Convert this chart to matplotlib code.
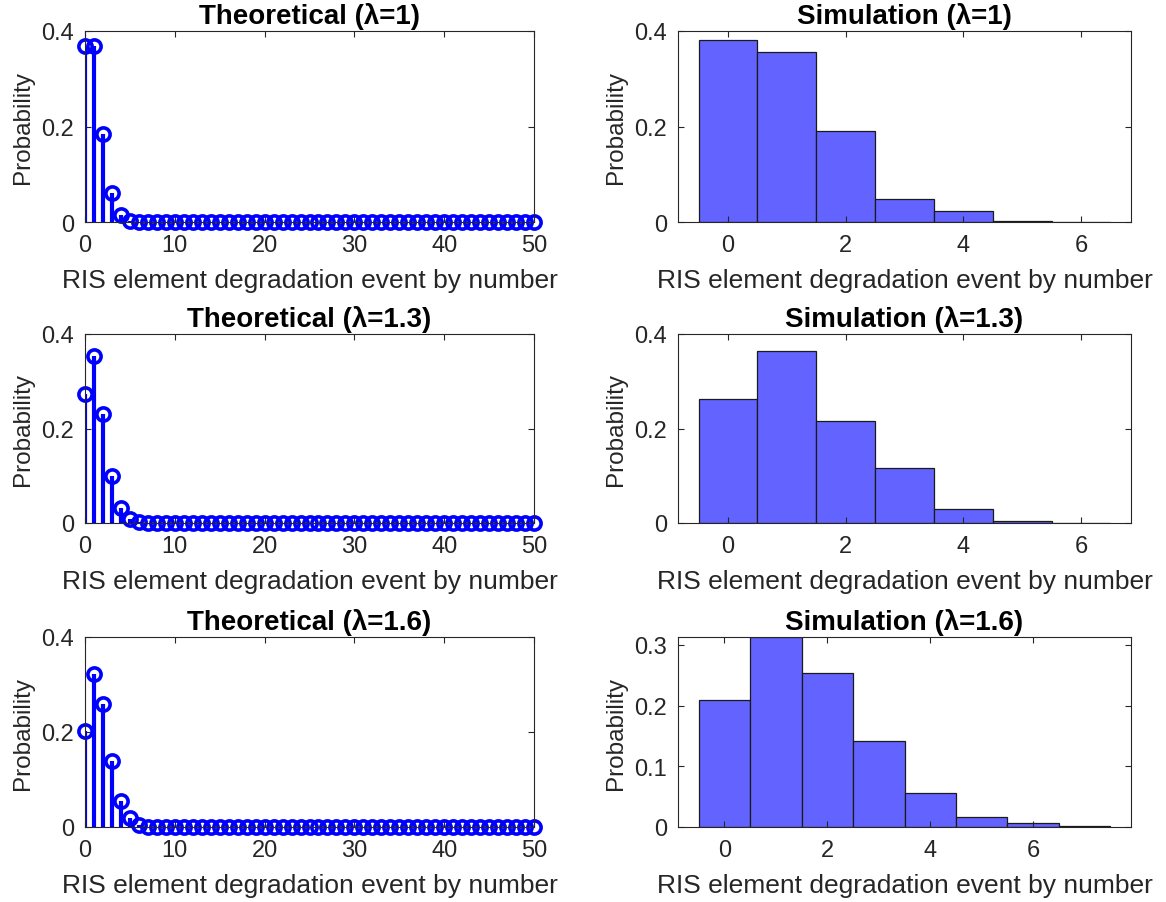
import matplotlib
matplotlib.use("Agg")
import matplotlib.pyplot as plt
from matplotlib.ticker import FuncFormatter

plt.rcParams['font.family'] = ['Liberation Sans', 'DejaVu Sans']

# events k = 0..50 for the theoretical stems
k_theory = list(range(51))

theory_l1 = [0.368, 0.368, 0.184, 0.061, 0.015, 0.003, 0.001, 0.0, 0.0, 0.0,
             0.0, 0.0, 0.0, 0.0, 0.0, 0.0, 0.0, 0.0, 0.0, 0.0,
             0.0, 0.0, 0.0, 0.0, 0.0, 0.0, 0.0, 0.0, 0.0, 0.0,
             0.0, 0.0, 0.0, 0.0, 0.0, 0.0, 0.0, 0.0, 0.0, 0.0,
             0.0, 0.0, 0.0, 0.0, 0.0, 0.0, 0.0, 0.0, 0.0, 0.0,
             0.0]
theory_l13 = [0.273, 0.354, 0.230, 0.100, 0.032, 0.008, 0.002, 0.0, 0.0, 0.0,
              0.0, 0.0, 0.0, 0.0, 0.0, 0.0, 0.0, 0.0, 0.0, 0.0,
              0.0, 0.0, 0.0, 0.0, 0.0, 0.0, 0.0, 0.0, 0.0, 0.0,
              0.0, 0.0, 0.0, 0.0, 0.0, 0.0, 0.0, 0.0, 0.0, 0.0,
              0.0, 0.0, 0.0, 0.0, 0.0, 0.0, 0.0, 0.0, 0.0, 0.0,
              0.0]
theory_l16 = [0.202, 0.323, 0.258, 0.138, 0.055, 0.018, 0.005, 0.001, 0.0, 0.0,
              0.0, 0.0, 0.0, 0.0, 0.0, 0.0, 0.0, 0.0, 0.0, 0.0,
              0.0, 0.0, 0.0, 0.0, 0.0, 0.0, 0.0, 0.0, 0.0, 0.0,
              0.0, 0.0, 0.0, 0.0, 0.0, 0.0, 0.0, 0.0, 0.0, 0.0,
              0.0, 0.0, 0.0, 0.0, 0.0, 0.0, 0.0, 0.0, 0.0, 0.0,
              0.0]

# simulated histograms (probability per count)
sim_k1 = [0, 1, 2, 3, 4, 5, 6]
sim_l1 = [0.381, 0.357, 0.190, 0.048, 0.022, 0.002, 0.001]
sim_k13 = [0, 1, 2, 3, 4, 5, 6]
sim_l13 = [0.263, 0.364, 0.216, 0.116, 0.029, 0.005, 0.0]
sim_k16 = [0, 1, 2, 3, 4, 5, 6, 7]
sim_l16 = [0.209, 0.313, 0.253, 0.142, 0.056, 0.017, 0.006, 0.002]

lambdas = ['1', '1.3', '1.6']
theory = [theory_l1, theory_l13, theory_l16]
sims = [(sim_k1, sim_l1), (sim_k13, sim_l13), (sim_k16, sim_l16)]

W, H = 1166, 903
fig = plt.figure(figsize=(W / 100, H / 100), dpi=100)

rows = [(32, 223), (335, 524), (638, 828)]
left_x = (85, 534)
right_x = (678, 1131)

axcol = '#262626'
xlab = 'RIS element degradation event by number'
fmt = FuncFormatter(lambda v, p: '%g' % round(v, 6))


def make_ax(x0, x1, y0, y1):
    ax = fig.add_axes([x0 / W, 1 - y1 / H, (x1 - x0) / W, (y1 - y0) / H])
    for s in ax.spines.values():
        s.set_color(axcol)
        s.set_linewidth(0.8)
    ax.tick_params(direction='in', top=True, right=True, length=4,
                   width=0.8, color=axcol, labelcolor=axcol, labelsize=17)
    ax.tick_params(axis='x', pad=9)
    ax.tick_params(axis='y', pad=8)
    ax.yaxis.set_major_formatter(fmt)
    ax.set_xlabel(xlab, fontsize=19, color=axcol, labelpad=8)
    ax.set_ylabel('Probability', fontsize=17.5, color=axcol, labelpad=5)
    return ax


for i in range(3):
    y0, y1 = rows[i]

    # theoretical stem plot
    ax = make_ax(left_x[0], left_x[1], y0, y1)
    markerline, stemlines, baseline = ax.stem(k_theory, theory[i], basefmt=' ')
    stemlines.set_color('#0000ff')
    stemlines.set_linewidth(3.0)
    markerline.set_color('#0000ff')
    markerline.set_markerfacecolor('none')
    markerline.set_markersize(9.5)
    markerline.set_markeredgewidth(2.6)
    markerline.set_clip_on(False)
    ax.set_xlim(0, 50)
    ax.set_ylim(0, 0.4)
    ax.set_xticks([0, 10, 20, 30, 40, 50])
    ax.set_yticks([0, 0.2, 0.4])
    ax.set_title('Theoretical (λ=%s)' % lambdas[i], fontsize=20,
                 fontweight='bold', pad=5.5)

    # simulation histogram
    ks, vals = sims[i]
    ax = make_ax(right_x[0], right_x[1], y0, y1)
    ax.bar(ks, vals, width=1.0, color='#6363ff', edgecolor='#1a1a1a',
           linewidth=0.9)
    ax.set_xticks([0, 2, 4, 6])
    if i < 2:
        ax.set_xlim(-0.85, 6.85)
        ax.set_ylim(0, 0.4)
        ax.set_yticks([0, 0.2, 0.4])
    else:
        ax.set_xlim(-0.9, 7.9)
        ax.set_ylim(0, max(vals))
        ax.set_yticks([0, 0.1, 0.2, 0.3])
    ax.set_title('Simulation (λ=%s)' % lambdas[i], fontsize=20,
                 fontweight='bold', pad=5.5)

fig.savefig('out.png', dpi=100)
